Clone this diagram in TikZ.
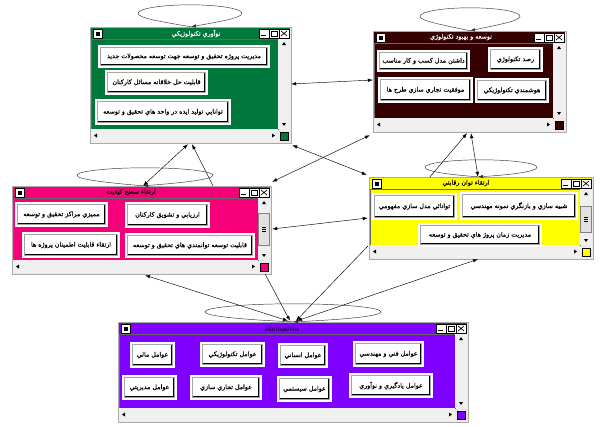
\documentclass[tikz,border=0pt]{standalone}
\usepackage{fontspec}
\setmainfont{Liberation Serif}
\newfontfamily\arabicfont[Script=Arabic, UprightFeatures={FakeBold=0.6}]{DejaVu Sans}
\TeXXeTstate=1
\usetikzlibrary{arrows.meta,calc}
\definecolor{cGreen}{RGB}{0,120,60}
\definecolor{cBrown}{RGB}{52,0,0}
\definecolor{cPink}{RGB}{245,0,120}
\definecolor{cYellow}{RGB}{255,255,0}
\definecolor{cPurple}{RGB}{128,0,255}
\definecolor{framegray}{RGB}{236,236,236}
\definecolor{framedark}{RGB}{170,170,170}
\definecolor{scrollgray}{RGB}{240,240,240}
\definecolor{thumbgray}{RGB}{225,225,225}
\tikzset{
  winbox/.style={inner sep=0pt, draw=none},
  btnbox/.style={fill=white, inner sep=0pt, draw=none, font=\arabicfont\fontsize{6.3}{7}\selectfont},
  btnline/.style={draw=gray!70, line width=0.5pt},
  btnshadow/.style={draw=black, line width=1.5pt},
  wintitle/.style={inner sep=0pt, font=\arabicfont\fontsize{6.3}{7}\selectfont},
  dconn/.style={line width=0.45pt, black, {Latex[length=5pt,width=3.5pt]}-{Latex[length=5pt,width=3.5pt]}},
  sconn/.style={line width=0.45pt, black, -{Latex[length=5pt,width=3.5pt]}},
  loopline/.style={line width=0.45pt, black!80, -{Latex[length=5pt,width=3.5pt]}},
}
% window chrome: #1 L, #2 T, #3 R, #4 B, #5 colour
\newcommand\winchrome[5]{%
  \fill[framegray] (#1,-#2) rectangle (#3,-#4);
  \draw[framedark,line width=0.5pt] (#1,-#2) rectangle (#3,-#4);
  \fill[#5] ({#1+1},{-#2-1}) rectangle ({#3-1},{-#2-12});
  \fill[#5] ({#1+1},{-#2-12}) rectangle ({#3-13},{-#4+14});
  \draw[black!60,line width=0.4pt] ({#1+1},{-#2-12}) rectangle ({#3-13},{-#4+14});
  \fill[scrollgray] ({#3-13},{-#2-12}) rectangle ({#3-1},{-#4+14});
  \fill[black] ({#3-7},{-#2-15}) -- ({#3-9},{-#2-18}) -- ({#3-5},{-#2-18}) -- cycle;
  \fill[black] ({#3-7},{-#4+17}) -- ({#3-9},{-#4+20}) -- ({#3-5},{-#4+20}) -- cycle;
  \fill[scrollgray] ({#1+1},{-#4+14}) rectangle ({#3-13},{-#4+1});
  \fill[black] ({#1+4},{-#4+7.5}) -- ({#1+7},{-#4+9.5}) -- ({#1+7},{-#4+5.5}) -- cycle;
  \fill[black] ({#3-16},{-#4+7.5}) -- ({#3-19},{-#4+9.5}) -- ({#3-19},{-#4+5.5}) -- cycle;
  \filldraw[fill=#5,draw=black,line width=0.4pt] ({#3-11},{-#4+11}) rectangle ({#3-3},{-#4+3});
  \filldraw[fill=white,draw=black,line width=0.4pt] ({#1+3},{-#2-2}) rectangle ({#1+12},{-#2-11});
  \fill[black] ({#1+5.5},{-#2-4.5}) rectangle ({#1+9.5},{-#2-8.5});
  \filldraw[fill=white,draw=black,line width=0.4pt] ({#3-12},{-#2-2}) rectangle ({#3-2},{-#2-11});
  \filldraw[fill=white,draw=black,line width=0.4pt] ({#3-22},{-#2-2}) rectangle ({#3-12},{-#2-11});
  \filldraw[fill=white,draw=black,line width=0.4pt] ({#3-32},{-#2-2}) rectangle ({#3-22},{-#2-11});
  \draw[black,line width=0.7pt] ({#3-10},{-#2-4}) -- ({#3-4},{-#2-9}) ({#3-10},{-#2-9}) -- ({#3-4},{-#2-4});
  \draw[black,line width=0.5pt] ({#3-20},{-#2-4}) rectangle ({#3-14},{-#2-9});
  \draw[black,line width=0.9pt] ({#3-20},{-#2-4.3}) -- ({#3-14},{-#2-4.3});
  \draw[black,line width=1pt] ({#3-30},{-#2-8.5}) -- ({#3-25},{-#2-8.5});
}
% button: #1 name, #2 cx, #3 cy, #4 w, #5 h, #6 text
\newcommand\btn[6]{%
  \node[btnbox, minimum width=#4pt, minimum height=#5pt] (#1) at (#2,-#3) {#6};
  \draw[btnline] ([shift={(2.5,-2.5)}]#1.north west) rectangle ([shift={(-2.5,2.5)}]#1.south east);
  \draw[btnshadow] ([shift={(3.5,3.5)}]#1.south west) -- ([shift={(-3.5,3.5)}]#1.south east) -- ([shift={(-3.5,-3.5)}]#1.north east);
}
% self loop: #1 apex coordinate, #2 rx, #3 ry, #4 gap below ellipse, #5 x offset of centre
\newcommand\selfloop[5]{%
  \draw[loopline] (#1)
    .. controls ($(#1)+({#5-0.55*#2},{#4})$) and ($(#1)+({#5-#2},{#4+0.45*#3})$) .. ($(#1)+({#5-#2},{#4+#3})$)
    .. controls ($(#1)+({#5-#2},{#4+1.55*#3})$) and ($(#1)+({#5-0.55*#2},{#4+2*#3})$) .. ($(#1)+({#5},{#4+2*#3})$)
    .. controls ($(#1)+({#5+0.55*#2},{#4+2*#3})$) and ($(#1)+({#5+#2},{#4+1.55*#3})$) .. ($(#1)+({#5+#2},{#4+#3})$)
    .. controls ($(#1)+({#5+#2},{#4+0.45*#3})$) and ($(#1)+({#5+0.55*#2},{#4})$) .. (#1);
}
\begin{document}
\begin{tikzpicture}[x=1pt,y=1pt]
\useasboundingbox (0,0) rectangle (600,-426);
\fill[white] (0,0) rectangle (600,-426);

% ---------- window 1 (green)
\winchrome{90}{27}{291}{143}{cGreen}
\node[winbox, minimum width=201pt, minimum height=116pt] (w1) at (190.5,-85) {};
\node[wintitle, text=white] (t1) at (196,-33.5) {\beginR نوآوري تكنولوژيكي\endR};
\btn{b11}{184}{56.5}{172}{23}{\beginR مديريت پروژه تحقيق و توسعه جهت توسعه محصولات جديد\endR}
\btn{b12}{156.5}{82.5}{103}{25}{\beginR قابليت حل خلاقانه مسائل كاركنان\endR}
\btn{b13}{163}{112}{136}{26}{\beginR توانايي توليد ايده در واحد هاي تحقيق و توسعه\endR}

% ---------- window 2 (brown)
\winchrome{373}{31}{566}{132}{cBrown}
\node[winbox, minimum width=193pt, minimum height=101pt] (w2) at (469.5,-81.5) {};
\node[wintitle, text=white] (t2) at (461,-37) {\beginR توسعه و بهبود تكنولوژي\endR};
\btn{b21}{515.5}{59.5}{55}{25}{\beginR رصد تكنولوژي\endR}
\btn{b22}{423.5}{61}{93}{22}{\beginR داشتن مدل كسب و كار مناسب\endR}
\btn{b23}{512}{90.5}{74}{25}{\beginR هوشمندي تكنولوژيكي\endR}
\btn{b24}{425.5}{90}{95}{26}{\beginR موفقيت تجاري سازي طرح ها\endR}

% ---------- window 3 (pink)
\winchrome{12}{186}{271}{274}{cPink}
\node[winbox, minimum width=259pt, minimum height=88pt] (w3) at (141.5,-230) {};
\node[wintitle] (t3) at (131,-192) {\beginR ارتقاء سطح كيفيت\endR};
\filldraw[fill=thumbgray,draw=gray,line width=0.4pt] (258.5,-213) rectangle (269.5,-245);
\draw[black,line width=0.4pt] (262,-227) -- (266,-227) (262,-229) -- (266,-229) (262,-231) -- (266,-231);
\btn{b31}{61.5}{214.5}{93}{25}{\beginR مميزي مراكز تحقيق و توسعه\endR}
\btn{b32}{167.5}{215}{85}{26}{\beginR ارزيابي و تشويق كاركنان\endR}
\btn{b33}{71}{245}{98}{26}{\beginR ارتقاء قابليت اطمينان پروژه ها\endR}
\btn{b34}{190}{245.5}{130}{25}{\beginR قابليت توسعه توانمندي هاي تحقيق و توسعه\endR}

% ---------- window 4 (yellow)
\winchrome{369}{177}{593}{259}{cYellow}
\node[winbox, minimum width=224pt, minimum height=82pt] (w4) at (481,-218) {};
\node[wintitle] (t4) at (466,-183) {\beginR ارتقاء توان رقابتي\endR};
\filldraw[fill=thumbgray,draw=gray,line width=0.4pt] (580.5,-206) rectangle (591.5,-232);
\draw[black,line width=0.4pt] (584,-217) -- (588,-217) (584,-219) -- (588,-219) (584,-221) -- (588,-221);
\btn{b41}{519}{206}{118}{28}{\beginR شبيه سازي و بازنگري نمونه مهندسي\endR}
\btn{b42}{414.5}{206.5}{85}{27}{\beginR توانائي مدل سازي مفهومي\endR}
\btn{b43}{480}{235}{124}{24}{\beginR مديريت زمان پروژ هاي تحقيق و توسعه\endR}

% ---------- window 5 (purple)
\winchrome{118}{322}{468}{422}{cPurple}
\node[winbox, minimum width=350pt, minimum height=100pt] (w5) at (293,-372) {};
\node[inner sep=0pt, font=\fontsize{7.5}{8}\selectfont] (t5) at (282,-328.5) {alternatives};
\btn{b51}{152.5}{355}{45}{26}{\beginR عوامل مالي\endR}
\btn{b52}{232.5}{354.5}{65}{25}{\beginR عوامل تكنولوژيكي\endR}
\btn{b53}{303}{355.5}{50}{25}{\beginR عوامل انساني\endR}
\btn{b54}{388.5}{354}{71}{26}{\beginR عوامل فني و مهندسي\endR}
\btn{b55}{149.5}{387.5}{55}{25}{\beginR عوامل مديريتي\endR}
\btn{b56}{226}{387.5}{72}{25}{\beginR عوامل تجاري سازي\endR}
\btn{b57}{304.5}{389}{55}{26}{\beginR عوامل سيستمي\endR}
\btn{b58}{391}{385.5}{84}{25}{\beginR عوامل يادگيري و نوآوري\endR}

% ---------- self loops
\coordinate (a1) at ([xshift=0.5pt]w1.north);
\coordinate (a2) at ([xshift=0.5pt]w2.north);
\coordinate (a3) at ([xshift=1.5pt]w3.north);
\coordinate (a4) at ([xshift=-3pt]w4.north);
\coordinate (a5) at (w5.north);
\selfloop{a1}{52}{8.5}{5}{-1}
\selfloop{a2}{50}{8.5}{6}{0}
\selfloop{a3}{68}{7.5}{3}{2}
\selfloop{a4}{56}{7.5}{2}{3}
\selfloop{a5}{88}{8}{2}{0}

% ---------- connectors
\draw[dconn] ([yshift=1pt]w1.east) -- ([yshift=1.5pt]w2.west);
\draw[dconn] ([shift={(1,-2)}]w1.south east) -- ([shift={(-2,2)}]w4.north west);
\draw[dconn] ([shift={(-3,-3)}]w2.south west) -- ([shift={(1,4)}]w3.north east);
\draw[dconn] ([shift={(1.5,0)}]w3.north) -- ([shift={(-2.5,-1)}]w1.south);
\draw[sconn] ([shift={(71.5,0)}]w3.north) -- ([shift={(1.5,-1)}]w1.south);
\draw[sconn] ([shift={(-51,0)}]w4.north) -- ([shift={(-2.5,-1)}]w2.south);
\draw[dconn] ([shift={(-3,0)}]w4.north) -- ([shift={(1.5,-1)}]w2.south);
\draw[dconn] ([shift={(1,1)}]w3.east) -- ([shift={(-1,0)}]w4.west);
\draw[sconn] ([shift={(-6,0)}]w3.south east) -- ([shift={(-3,1)}]w5.north);
\draw[sconn] ([shift={(-1,13)}]w4.south west) -- ([shift={(3,1)}]w5.north);
\draw[dconn] ([shift={(3.5,-1)}]w3.south) -- ([shift={(-5,1)}]w5.north);
\draw[dconn] ([shift={(-3,0)}]w4.south) -- ([shift={(4,1)}]w5.north);
\end{tikzpicture}
\end{document}
